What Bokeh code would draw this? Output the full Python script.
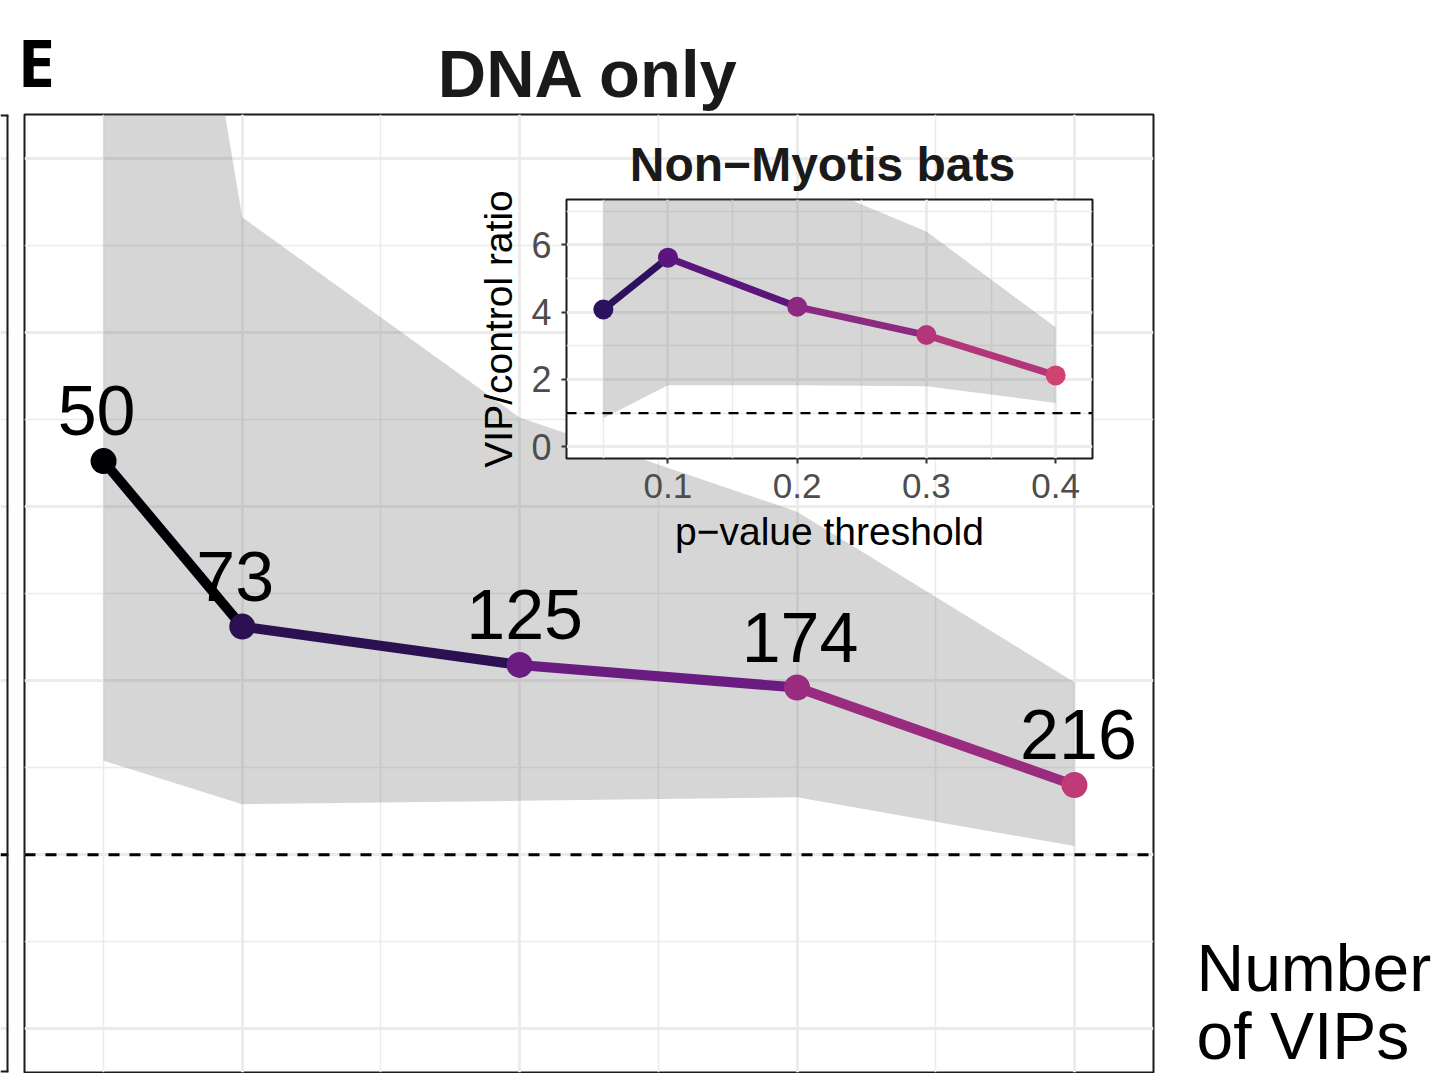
from bokeh.plotting import figure
from bokeh.models import Range1d, FixedTicker, Grid, Span, Label, GridBox
from bokeh.core.properties import value
from bokeh.embed import file_html
from bokeh.resources import INLINE

# ---------------- data ----------------
p_thresholds = [0.05, 0.1, 0.2, 0.3, 0.4]
n_vips = [50, 73, 125, 174, 216]

# main panel: DNA only (all bats)
all_ratio = [3.26, 2.31, 2.09, 1.96, 1.40]
all_lower = [1.54, 1.29, 1.31, 1.33, 1.05]
all_upper = [9.4, 4.66, 3.51, 2.97, 1.99]

# inset: Non-Myotis bats
nonmyo_ratio = [4.08, 5.62, 4.16, 3.32, 2.12]
nonmyo_lower = [0.85, 1.83, 1.83, 1.80, 1.30]
nonmyo_upper = [12.0, 10.5, 8.0, 6.4, 3.55]

main_colors = ["#000004", "#2c1152", "#6a1c81", "#9a2c80", "#bf3a77"]
inset_colors = ["#2c115f", "#5b167e", "#8c2981", "#b3367a", "#d0426f"]

x_major = [0.1, 0.2, 0.3, 0.4]
x_minor = [0.05, 0.15, 0.25, 0.35]
main_y_major = [0, 1, 2, 3, 4, 5]
main_y_minor = [0.5, 1.5, 2.5, 3.5, 4.5]
inset_y_major = [0, 2, 4, 6]
inset_y_minor = [1, 3, 5, 7]

x_lim = (0.04, 0.41)
main_y_lim = (0, 5)
inset_y_lim = (0, 7)

panel_tag = "E"
main_title = "DNA only"
inset_title = "Non\u2212Myotis bats"
legend_title = ["Number", "of VIPs"]

# style: small horizontal nudges (screen px) of the count labels
label_nudge = [-7, -7, 5, 3, 4]


def expand(lim, f=0.05):
    d = (lim[1] - lim[0]) * f
    return (lim[0] - d, lim[1] + d)


def drop_default_grids(fig):
    fig.center = [r for r in fig.center if not isinstance(r, Grid)]


FONT = "Liberation Sans"
GRID_C = "#ebebeb"
BORDER_C = "#1a1a1a"
MID = 0.3465  # em distance from baseline to middle of the text box

# ---------------- main panel ----------------
xr = expand(x_lim)
yr_main = expand(main_y_lim)
p = figure(width=1449, height=1073,
           x_range=Range1d(*xr), y_range=Range1d(*yr_main),
           x_axis_location=None, y_axis_location=None,
           min_border_left=24, min_border_right=296,
           min_border_top=114, min_border_bottom=1,
           toolbar_location=None, output_backend="svg",
           outline_line_color=BORDER_C, outline_line_width=2,
           background_fill_color="white", border_fill_color="white")
drop_default_grids(p)

p.add_layout(Grid(dimension=0, ticker=FixedTicker(ticks=x_major, minor_ticks=x_minor),
                  grid_line_color=GRID_C, grid_line_width=2.8,
                  minor_grid_line_color=GRID_C, minor_grid_line_width=1.5))
p.add_layout(Grid(dimension=1, ticker=FixedTicker(ticks=main_y_major, minor_ticks=main_y_minor),
                  grid_line_color=GRID_C, grid_line_width=2.8,
                  minor_grid_line_color=GRID_C, minor_grid_line_width=1.5))

p.varea(x=p_thresholds, y1=all_lower, y2=all_upper, fill_color="#7f7f7f", fill_alpha=0.32)
p.add_layout(Span(location=1, dimension="width", line_color="black",
                  line_width=3, line_dash="11 10"))
p.segment(x0=p_thresholds[:-1], y0=all_ratio[:-1], x1=p_thresholds[1:], y1=all_ratio[1:],
          line_color=main_colors[:-1], line_width=10)
p.scatter(x=p_thresholds, y=all_ratio, size=26, fill_color=main_colors, line_color=None)
p.text(x=p_thresholds, y=all_ratio, text=[str(n) for n in n_vips],
       x_offset=label_nudge, y_offset=-(26 + MID * 70),
       text_align="center", text_baseline="middle",
       text_font=value(FONT), text_font_size="70px", text_color="black")

# ---------------- neighbouring panel edge (left) ----------------
pl = figure(width=24, height=1073, x_range=Range1d(0, 1), y_range=p.y_range,
            x_axis_location=None, y_axis_location=None,
            min_border_left=0, min_border_right=16, min_border_top=114, min_border_bottom=1,
            toolbar_location=None, output_backend="svg",
            outline_line_color=None,
            background_fill_color="white", border_fill_color=None)
drop_default_grids(pl)
pl.add_layout(Grid(dimension=1, ticker=FixedTicker(ticks=main_y_major, minor_ticks=main_y_minor),
                   grid_line_color=GRID_C, grid_line_width=2.8,
                   minor_grid_line_color=GRID_C, minor_grid_line_width=1.5))
pl.add_layout(Span(location=1, dimension="width", line_color="black",
                   line_width=3, line_dash="11 10"))
pl.add_layout(Span(location=1, dimension="height", line_color=BORDER_C, line_width=4))
pl.add_layout(Span(location=yr_main[1], dimension="width", line_color=BORDER_C, line_width=4))
pl.add_layout(Span(location=yr_main[0], dimension="width", line_color=BORDER_C, line_width=4))

# ---------------- inset ----------------
pi = figure(width=710, height=480,
            x_range=Range1d(*xr), y_range=Range1d(*expand(inset_y_lim)),
            min_border_left=146, min_border_right=38, min_border_top=79, min_border_bottom=142,
            toolbar_location=None, output_backend="svg",
            outline_line_color=BORDER_C, outline_line_width=2,
            background_fill_color="white", border_fill_color=None)

xt = FixedTicker(ticks=x_major, minor_ticks=x_minor)
yt = FixedTicker(ticks=inset_y_major, minor_ticks=inset_y_minor)
pi.xaxis.ticker = xt
pi.yaxis.ticker = yt
pi.xgrid.ticker = xt
pi.ygrid.ticker = yt
for g in (pi.xgrid, pi.ygrid):
    g.grid_line_color = GRID_C
    g.grid_line_width = 2.8
    g.minor_grid_line_color = GRID_C
    g.minor_grid_line_width = 1.5

for ax in (pi.xaxis, pi.yaxis):
    ax.axis_line_color = None
    ax.major_tick_line_color = "#333333"
    ax.major_tick_line_width = 2
    ax.major_tick_in = 0
    ax.major_tick_out = 5
    ax.minor_tick_line_color = None
    ax.major_label_text_font = FONT
    ax.major_label_text_color = "#4d4d4d"
    ax.axis_label_text_font = FONT
    ax.axis_label_text_font_style = "normal"
    ax.axis_label_text_color = "black"
    ax.axis_label_text_font_size = "39px"

pi.xaxis.axis_label = "p\u2212value threshold"
pi.xaxis.major_label_text_font_size = "35px"
pi.xaxis.major_label_standoff = 10
pi.xaxis.axis_label_standoff = 9
pi.yaxis.axis_label = "VIP/control ratio"
pi.yaxis.major_label_text_font_size = "36px"
pi.yaxis.major_label_standoff = 10
pi.yaxis.axis_label_standoff = 8

pi.varea(x=p_thresholds, y1=nonmyo_lower, y2=nonmyo_upper, fill_color="#7f7f7f", fill_alpha=0.32)
pi.add_layout(Span(location=1, dimension="width", line_color="black",
                   line_width=2.2, line_dash="10 8"))
pi.segment(x0=p_thresholds[:-1], y0=nonmyo_ratio[:-1], x1=p_thresholds[1:], y1=nonmyo_ratio[1:],
           line_color=inset_colors[:-1], line_width=7)
pi.scatter(x=p_thresholds, y=nonmyo_ratio, size=20, fill_color=inset_colors, line_color=None)

# ---------------- free text overlay (page pixel coordinates) ----------------
po = figure(width=1449, height=1073, x_range=Range1d(0, 1449), y_range=Range1d(1073, 0),
            x_axis_location=None, y_axis_location=None,
            min_border_left=0, min_border_right=0, min_border_top=0, min_border_bottom=0,
            toolbar_location=None, output_backend="svg",
            outline_line_color=None, background_fill_color=None, border_fill_color=None)
drop_default_grids(po)


def add_text(fig, x, baseline_y, text, size, font=FONT, bold=False, align="left", color="black"):
    fig.add_layout(Label(x=x, y=baseline_y - MID * size, text=text,
                         text_font=font, text_font_style="bold" if bold else "normal",
                         text_font_size=f"{size}px", text_color=color,
                         text_baseline="middle", text_align=align))


add_text(po, 17, 84, panel_tag, 67, font="Open Sans", bold=True)
add_text(po, 588, 96, main_title, 67, bold=True, align="center", color="#1a1a1a")
add_text(po, 822, 181, inset_title, 48, bold=True, align="center", color="#1a1a1a")
add_text(po, 1196, 990, legend_title[0], 66)
add_text(po, 1196, 1058, legend_title[1], 66)

# zero-size outer tracks keep every figure's frame edges on their own grid lines
layout = GridBox(children=[(p, 1, 1, 3, 4), (pl, 1, 0, 3, 2), (pi, 2, 3, 1, 1), (po, 0, 0, 5, 6)],
                 rows=["0px", "120px", "480px", "473px", "0px"],
                 cols=["0px", "24px", "396px", "710px", "319px", "0px"])

open("out.html", "w").write(file_html(layout, INLINE))
